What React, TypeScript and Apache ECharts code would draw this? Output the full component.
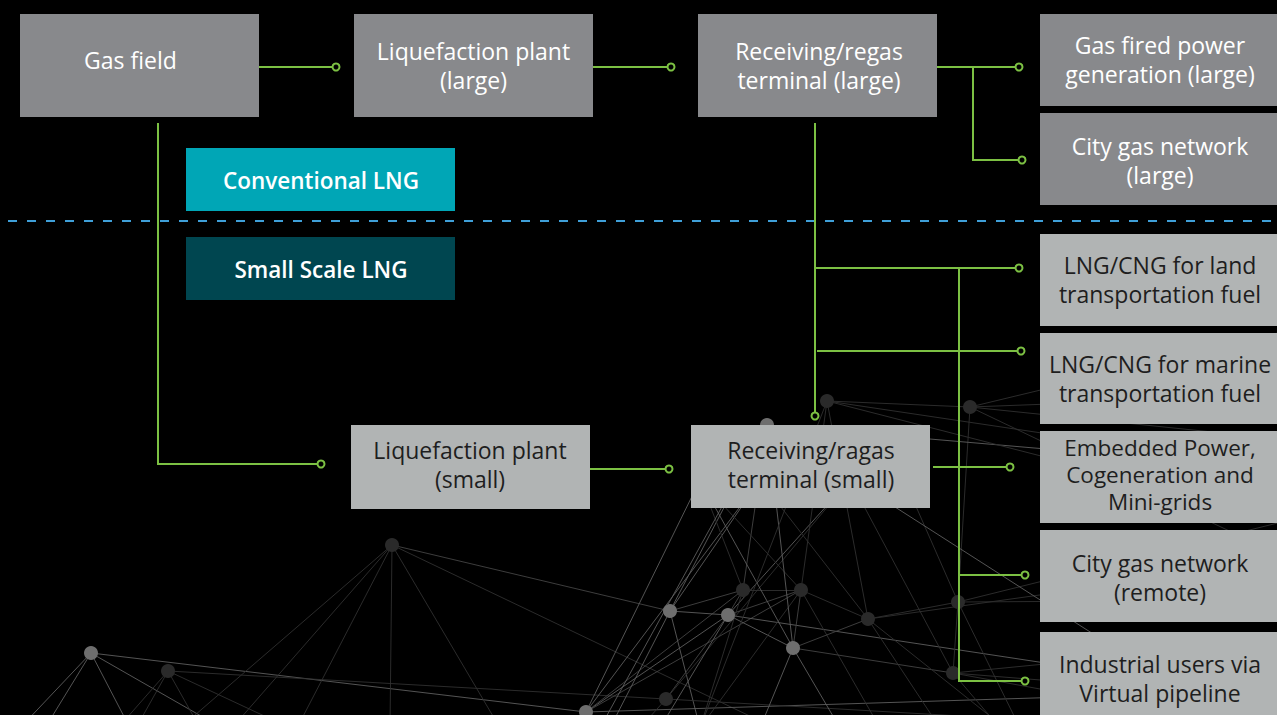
import React, { useEffect, useRef } from "react";
import * as echarts from "echarts";

// ---------- diagram data ----------
const boxLabels = [
  "Gas field",
  "Liquefaction plant\n(large)",
  "Receiving/regas\nterminal (large)",
  "Gas fired power\ngeneration (large)",
  "City gas network\n(large)",
  "Liquefaction plant\n(small)",
  "Receiving/ragas\nterminal (small)",
  "LNG/CNG for land\ntransportation fuel",
  "LNG/CNG for marine\ntransportation fuel",
  "Embedded Power,\nCogeneration and\nMini-grids",
  "City gas network\n(remote)",
  "Industrial users via\nVirtual pipeline",
  "Conventional LNG",
  "Small Scale LNG",
];
const boxKinds = [
  "large", "large", "large", "large", "large",
  "small", "small", "small", "small", "small", "small", "small",
  "conv", "ssl",
];
// [x0, y0, x1, y1] in diagram units
const boxBounds = [
  [20, 14, 259, 117],
  [354, 14, 593, 117],
  [698, 14, 937, 117],
  [1040, 14, 1280, 106],
  [1040, 113, 1280, 205],
  [351, 425, 590, 509],
  [691, 425, 930, 508],
  [1040, 234, 1280, 326],
  [1040, 333, 1280, 424],
  [1040, 431, 1280, 523],
  [1040, 530, 1280, 622],
  [1040, 632, 1280, 724],
  [186, 148, 455, 211],
  [186, 237, 455, 300],
];
// label centres (x, y) in diagram units
const labelCentersX = [130.5, 473.5, 819, 1160, 1160, 470, 811, 1160, 1160, 1160, 1160, 1160, 321, 321];
const labelCentersY = [60, 65.5, 65.5, 59.5, 160, 464.5, 464, 279, 378.5, 474.5, 577, 678.5, 180.5, 269];

// green connectors (polylines) and their end markers
const connectors = [
  [[259, 67], [336, 67]],
  [[593, 67], [671, 67]],
  [[937, 67], [1019, 67]],
  [[973, 67], [973, 160], [1022, 160]],
  [[158, 123], [158, 464], [321, 464]],
  [[590, 469], [669, 469]],
  [[815, 123], [815, 416]],
  [[815, 268], [1019, 268]],
  [[817, 351], [1021, 351]],
  [[959, 268], [959, 681], [1025, 681]],
  [[933, 467], [1010, 467]],
  [[959, 575], [1025, 575]],
];
const connectorEnds = [
  [336, 67], [671, 67], [1019, 67], [1022, 160], [321, 464], [669, 469],
  [815, 416], [1019, 268], [1021, 351], [1025, 681], [1010, 467], [1025, 575],
];
const dividerLine = [[8, 221], [1277, 221]];

// background network
const netNodes = [
  ["A", 91, 653, "light"],
  ["B", 168, 671, "dark"],
  ["C", 392, 545, "dark"],
  ["P", 586, 712, "light"],
  ["E", 670, 611, "light"],
  ["D", 666, 699, "dark"],
  ["G", 728, 615, "light"],
  ["H", 743, 590, "dark"],
  ["I", 801, 590, "dark"],
  ["J", 793, 648, "light"],
  ["K", 868, 619, "dark"],
  ["L", 958, 602, "dark"],
  ["M", 953, 673, "dark"],
  ["F", 767, 425, "light"],
  ["N", 827, 401, "dark"],
  ["O", 970, 407, "dark"],
];
const netAnchors = [
  ["a1", 20, 728], ["a2", 45, 728], ["a3", 130, 728], ["a4", 222, 728],
  ["b1", 118, 728], ["b2", 136, 728], ["b3", 200, 728], ["b4", 290, 728],
  ["c1", 180, 728], ["c2", 232, 728], ["c3", 297, 728], ["c4", 390, 728], ["c5", 500, 728], ["c6", 800, 740],
  ["e1", 610, 728], ["e2", 700, 728], ["d1", 640, 728], ["g1", 660, 728],
  ["i1", 880, 728], ["j1", 760, 728], ["j2", 840, 728], ["k1", 940, 728],
  ["m1", 1000, 728], ["f1", 600, 728], ["l1", 1020, 728], ["k2", 1005, 728],
  ["u1", 700, 480], ["u2", 760, 480], ["u3", 850, 480], ["u4", 900, 470],
  ["r1", 1290, 395], ["r2", 1290, 440], ["r3", 1290, 470], ["r4", 1290, 520],
  ["r5", 1290, 560], ["r6", 1290, 600], ["r7", 1290, 690], ["r8", 1290, 700],
  ["r9", 1290, 735], ["r10", 1290, 760], ["r11", 1290, 330], ["r12", 1290, 640],
];
const netLinks = [
  ["A", "a1"], ["A", "a2"], ["A", "a3"], ["A", "a4"], ["A", "P"],
  ["B", "b1"], ["B", "b2"], ["B", "b3"], ["B", "b4"], ["B", "D"],
  ["C", "c1"], ["C", "c2"], ["C", "c3"], ["C", "c4"], ["C", "c5"], ["C", "E"], ["C", "c6"],
  ["P", "G"], ["P", "H"], ["P", "I"], ["P", "r7"], ["P", "u1"], ["P", "u2"],
  ["E", "F"], ["E", "G"], ["E", "H"], ["E", "e1"], ["E", "e2"], ["E", "u2"],
  ["D", "d1"], ["D", "G"], ["D", "r9"], ["D", "u3"],
  ["G", "J"], ["G", "H"], ["G", "I"], ["G", "g1"], ["G", "r8"], ["G", "u3"],
  ["H", "I"], ["H", "e2"], ["H", "F"], ["H", "u1"],
  ["I", "N"], ["I", "K"], ["I", "J"], ["I", "i1"], ["I", "u1"], ["I", "e2"],
  ["J", "K"], ["J", "M"], ["J", "j1"], ["J", "j2"], ["J", "u1"],
  ["K", "L"], ["K", "r5"], ["K", "k1"], ["K", "N"], ["K", "u2"], ["K", "k2"],
  ["L", "M"], ["L", "r6"], ["L", "r4"], ["L", "O"], ["L", "l1"], ["L", "u4"],
  ["M", "r8"], ["M", "m1"], ["M", "r9"], ["M", "u3"], ["M", "r12"],
  ["F", "J"], ["F", "f1"], ["F", "r3"], ["F", "r10"],
  ["N", "O"], ["N", "r3"], ["N", "r4"], ["N", "e2"],
  ["O", "r1"], ["O", "r2"], ["O", "r5"], ["O", "r11"],
];

// ---------- styles ----------
const GREEN = "#7cc043";
const kindFill: Record<string, string> = {
  large: "#88898c",
  small: "#b1b4b4",
  conv: "#00a6b6",
  ssl: "#004650",
};
const kindText: Record<string, string> = {
  large: "#ffffff",
  small: "#1e1e1e",
  conv: "#ffffff",
  ssl: "#ffffff",
};

export default function App() {
  const ref = useRef<HTMLDivElement>(null);

  useEffect(() => {
    if (!ref.current) return;
    const chart = echarts.init(ref.current, undefined, { renderer: "svg" });

    const toneOf: Record<string, string> = {};
    netNodes.forEach((n) => (toneOf[n[0] as string] = n[3] as string));

    const graphData = [
      ...netNodes.map((n) => ({
        name: n[0],
        value: [n[1], n[2]],
        symbolSize: 14,
        itemStyle: { color: n[3] === "light" ? "#6e6e6e" : "#2a2a2a" },
      })),
      ...netAnchors.map((n) => ({
        name: n[0],
        value: [n[1], n[2]],
        symbolSize: 0,
        itemStyle: { color: "rgba(0,0,0,0)" },
      })),
    ];
    const graphLinks = netLinks.map(([s, t]) => {
      const ls = toneOf[s] === "light" ? 1 : 0;
      const lt = toneOf[t] === "light" ? 1 : toneOf[t] === undefined ? ls : 0;
      const c = ls + lt === 2 ? "#5e5e5e" : ls + lt === 1 ? "#444444" : "#303030";
      return { source: s, target: t, lineStyle: { color: c, width: 0.9, opacity: 1 } };
    });

    const option: any = {
      animation: false,
      backgroundColor: "#000000",
      grid: { left: 0, right: 0, top: 0, bottom: 0 },
      xAxis: { type: "value", min: 0, max: 1277, show: false },
      yAxis: { type: "value", min: 0, max: 715, inverse: true, show: false },
      series: [
        {
          type: "graph",
          coordinateSystem: "cartesian2d",
          layout: "none",
          z: 1,
          silent: true,
          symbol: "circle",
          data: graphData,
          links: graphLinks,
          label: { show: false },
          lineStyle: { curveness: 0 },
        },
        {
          type: "lines",
          coordinateSystem: "cartesian2d",
          polyline: true,
          z: 2,
          silent: true,
          lineStyle: { color: "#3f9fd8", width: 2, type: [9, 10], opacity: 1 },
          data: [{ coords: dividerLine }],
        },
        {
          type: "lines",
          coordinateSystem: "cartesian2d",
          polyline: true,
          z: 3,
          silent: true,
          lineStyle: { color: GREEN, width: 2, opacity: 1 },
          data: connectors.map((c) => ({ coords: c })),
        },
        {
          type: "scatter",
          z: 4,
          silent: true,
          symbol: "circle",
          symbolSize: 7,
          itemStyle: { color: "#000000", borderColor: GREEN, borderWidth: 2, opacity: 1 },
          data: connectorEnds,
        },
        {
          type: "custom",
          z: 5,
          silent: true,
          clip: false,
          data: boxBounds.map((b, i) => [b[0], b[1], b[2], b[3], labelCentersX[i], labelCentersY[i], i]),
          encode: { x: [0, 2], y: [1, 3] },
          renderItem: (params: any, api: any) => {
            const i = api.value(6);
            const p0 = api.coord([api.value(0), api.value(1)]);
            const p1 = api.coord([api.value(2), api.value(3)]);
            const pc = api.coord([api.value(4), api.value(5)]);
            const kind = boxKinds[i];
            const label = boxLabels[i];
            const lines = label.split("\n").length;
            const bold = kind === "conv" || kind === "ssl";
            return {
              type: "group",
              children: [
                {
                  type: "rect",
                  shape: { x: p0[0], y: p0[1], width: p1[0] - p0[0], height: p1[1] - p0[1] },
                  style: { fill: kindFill[kind] },
                },
                {
                  type: "text",
                  style: {
                    text: label,
                    x: pc[0],
                    y: pc[1],
                    align: "center",
                    verticalAlign: "middle",
                    fontFamily: "Open Sans",
                    fontSize: bold ? 22.5 : lines > 2 ? 22.5 : 23,
                    fontWeight: bold ? 600 : "normal",
                    lineHeight: lines > 2 ? 27 : 29,
                    fill: kindText[kind],
                  },
                },
              ],
            };
          },
        },
      ],
    };
    chart.setOption(option);
    return () => chart.dispose();
  }, []);

  return (
    <div
      ref={ref}
      style={{ position: "fixed", left: 0, top: 0, width: 1277, height: 715, background: "#000" }}
    />
  );
}
